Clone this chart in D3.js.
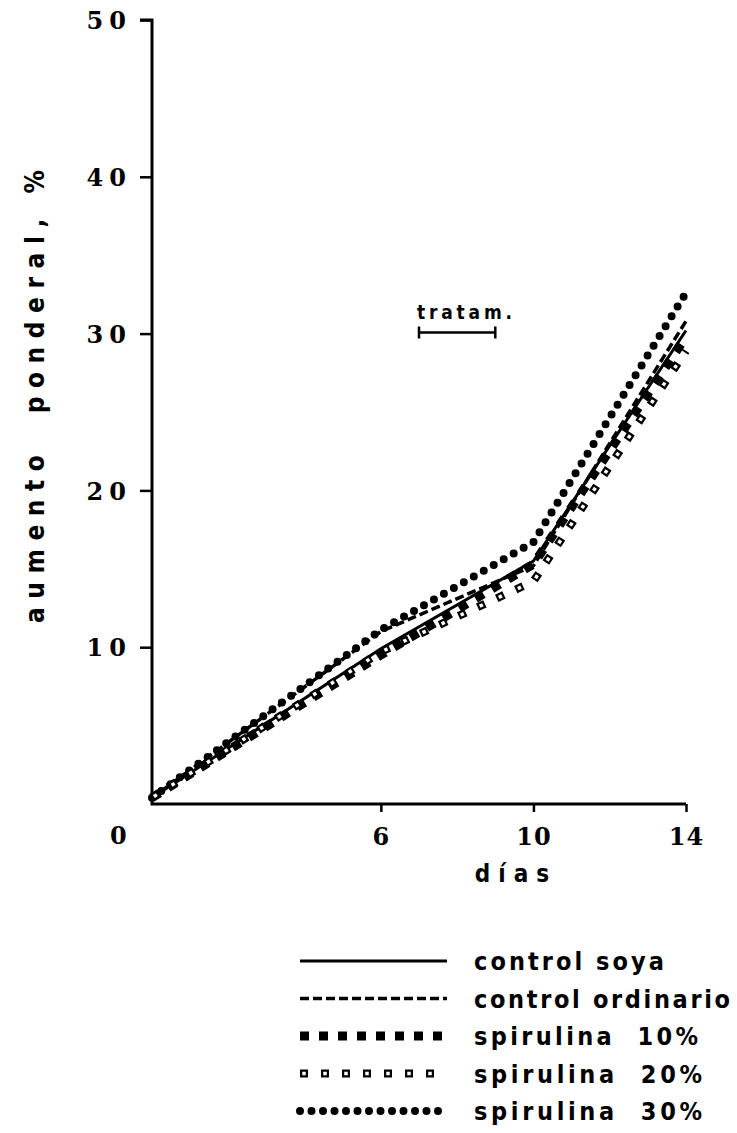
<!DOCTYPE html>
<html>
<head>
<meta charset="utf-8">
<script src="https://cdn.jsdelivr.net/npm/d3@7"></script>
<style>
  body { margin: 0; background: #fff; }
  svg { display: block; }
  .tick text { font-family: "DejaVu Serif", serif; font-weight: bold; }
  .cond { font-family: "DejaVu Sans Condensed", "DejaVu Sans", sans-serif; font-stretch: condensed; font-weight: bold; }
</style>
</head>
<body>
<div id="chart"></div>
<script>
const days = [0, 6, 10, 14];
const seriesNames = ["control soya", "control ordinario", "spirulina  10%", "spirulina  20%", "spirulina  30%"];
const soya = [0.4, 9.9, 15.5, 30.2];
const ordinario = [0.4, 11.0, 15.2, 30.8];
const spir10 = [0.4, 9.5, 15.3, 29.8];
const spir20 = [0.4, 9.7, 14.2, 28.9];
const spir30 = [0.4, 11.1, 16.7, 32.6];
const yTicks = [10, 20, 30, 40, 50];
const xTicks = [6, 10, 14];
const treatment = [7, 9];
const treatmentLevel = 30;

const W = 737, H = 1133;
const svg = d3.select("#chart").append("svg").attr("width", W).attr("height", H);

const x = d3.scaleLinear().domain([0, 14]).range([152, 686]);
const y = d3.scaleLinear().domain([0, 50]).range([804, 20]);

// axes
const yAxis = svg.append("g")
  .attr("transform", "translate(" + x(0) + ",0)")
  .call(d3.axisLeft(y).tickValues(yTicks).tickSize(12).tickPadding(8));
yAxis.select(".domain").remove();
yAxis.selectAll(".tick line").attr("stroke-width", 2.5);
yAxis.selectAll(".tick text").attr("font-size", 24).attr("letter-spacing", 6).attr("dy", "0.36em");

const xAxis = svg.append("g")
  .attr("transform", "translate(0," + y(0) + ")")
  .call(d3.axisBottom(x).tickValues(xTicks).tickSize(8).tickPadding(16));
xAxis.select(".domain").remove();
xAxis.selectAll(".tick line").attr("stroke-width", 2.5);
xAxis.selectAll(".tick text").attr("font-size", 24).attr("letter-spacing", 1);

svg.append("path")
  .attr("d", "M" + (x(0) - 12) + "," + y(50) + "H" + x(0) + "V" + y(0) + "H" + x(14))
  .attr("fill", "none").attr("stroke", "#000").attr("stroke-width", 3);

svg.append("text")
  .attr("x", x(0) - 42).attr("y", y(0) + 40)
  .attr("font-family", "DejaVu Serif").attr("font-weight", "bold").attr("font-size", 24)
  .text("0");

svg.append("text")
  .attr("class", "cond")
  .attr("x", 516).attr("y", 882)
  .attr("text-anchor", "middle")
  .attr("font-size", 24)
  .attr("letter-spacing", 8)
  .text("días");

svg.append("text")
  .attr("class", "cond")
  .attr("transform", "translate(44,170) rotate(-90)")
  .attr("text-anchor", "end")
  .attr("font-size", 26)
  .attr("textLength", 453)
  .attr("lengthAdjust", "spacing")
  .attr("xml:space", "preserve")
  .text("aumento  ponderal, %");

// treatment bar
const ty = y(treatmentLevel) - 1;
svg.append("path")
  .attr("d", "M" + x(treatment[0]) + "," + ty + "H" + x(treatment[1]) +
    "M" + x(treatment[0]) + "," + (ty - 6) + "V" + (ty + 6) +
    "M" + x(treatment[1]) + "," + (ty - 6) + "V" + (ty + 6))
  .attr("fill", "none").attr("stroke", "#000").attr("stroke-width", 2.5);
svg.append("text")
  .attr("class", "cond")
  .attr("x", x(treatment[0]) - 2).attr("y", ty - 14)
  .attr("font-size", 19)
  .attr("textLength", 95)
  .attr("lengthAdjust", "spacing")
  .text("tratam.");

// line styles
const styles = [
  [{ w: 3, dash: null, color: "#000" }],
  [{ w: 3.5, dash: "9,4", color: "#000" }],
  [{ w: 9, dash: "9,10", color: "#000" }],
  [{ w: 8, dash: "8,13", color: "#000" }, { w: 3.5, dash: "3.5,17.5", offset: -2.25, color: "#fff" }],
  [{ w: 8, dash: "0,11.5", color: "#000", cap: "round" }]
];
const allSeries = [soya, ordinario, spir10, spir20, spir30];

const line = d3.line().x((d, i) => x(days[i])).y(d => y(d));

function drawStyled(g, d, st) {
  st.forEach(function (s) {
    g.append("path")
      .attr("d", d)
      .attr("fill", "none")
      .attr("stroke", s.color)
      .attr("stroke-width", s.w)
      .attr("stroke-dasharray", s.dash)
      .attr("stroke-dashoffset", s.offset || 0)
      .attr("stroke-linecap", s.cap || "butt")
      .attr("stroke-linejoin", "round");
  });
}

const plot = svg.append("g");
[4, 0, 1, 2, 3].forEach(function (k) {
  drawStyled(plot, line(allSeries[k]), styles[k]);
});

// legend
const legendX0 = 300, legendX1 = 447, legendY0 = 961, legendStep = 37.5;
const legendWidths = [190, 256, 224, 228, 228];
const leg = svg.append("g");
seriesNames.forEach(function (name, i) {
  const ly = legendY0 + i * legendStep;
  drawStyled(leg, "M" + legendX0 + "," + ly + "H" + legendX1, styles[i]);
  leg.append("text")
    .attr("class", "cond")
    .attr("x", 474).attr("y", ly + 9)
    .attr("font-size", 25)
    .attr("textLength", legendWidths[i])
    .attr("lengthAdjust", "spacing")
    .attr("xml:space", "preserve")
    .text(name);
});
</script>
</body>
</html>
